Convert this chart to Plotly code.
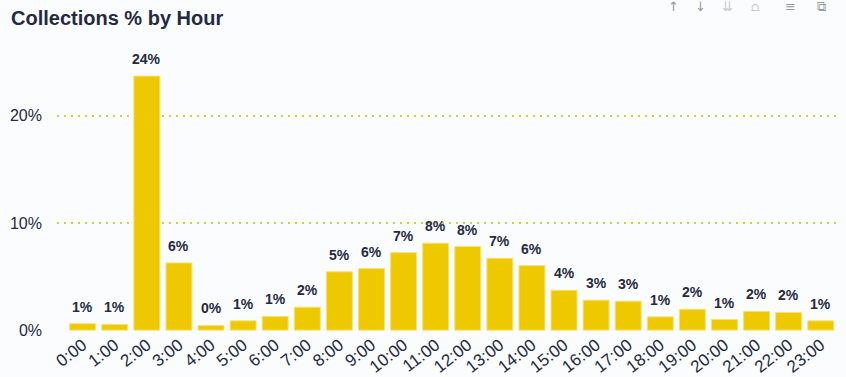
import plotly.graph_objects as go

hours = [f"{h}:00" for h in range(24)]
share = [0.0060, 0.0054, 0.2370, 0.0627, 0.0044, 0.0087, 0.0128, 0.0214,
         0.0545, 0.0574, 0.0723, 0.0811, 0.0780, 0.0670, 0.0602, 0.0372,
         0.0279, 0.0270, 0.0124, 0.0195, 0.0099, 0.0174, 0.0165, 0.0087]
y_ticks = [0, 0.1, 0.2]
y_tick_labels = ["0%", "10%", "20%"]
title_text = "Collections % by Hour"
header_icons = ["↑", "↓", "⇊", "⩍", "≡", "⧉"]

BAR = "#EEC900"
INK = "#252A40"
GRID = "#C9D33A"
FONT = "Liberation Sans, Arial"

W, H = 846, 377
L, R, T, B = 57, 6, 45, 46
PW, PH = W - L - R, H - T - B

fig = go.Figure()
fig.add_trace(go.Bar(
    x=hours, y=share,
    marker=dict(color=BAR, line=dict(color="#F6E27A", width=1)),
    hoverinfo="x+y",
))

for h, v in zip(hours, share):
    fig.add_annotation(x=h, y=v, text=f"<b>{v:.0%}</b>", showarrow=False,
                       yanchor="middle", yshift=17,
                       font=dict(family=FONT, size=14, color=INK))

# title
fig.add_annotation(xref="paper", yref="paper", x=(9 - L) / PW, y=(H - B - 18) / PH,
                   xanchor="left", yanchor="middle", showarrow=False,
                   text=f"<b>{title_text}</b>",
                   font=dict(family=FONT, size=20, color=INK))

# visual header icons (faint)
icon_x = [673, 700, 727, 755, 790, 821]
icon_col = ["#9A9A9A", "#9A9A9A", "#C8C8C8", "#C8C8C8", "#9A9A9A", "#9A9A9A"]
for ic, ix, cc in zip(header_icons, icon_x, icon_col):
    fig.add_annotation(xref="paper", yref="paper", x=(ix - L) / PW, y=(H - B - 7) / PH,
                       xanchor="center", yanchor="middle", showarrow=False,
                       text=ic, font=dict(family="DejaVu Sans", size=13, color=cc))

fig.update_layout(
    width=W, height=H,
    margin=dict(l=L, r=R, t=T, b=B, autoexpand=False),
    paper_bgcolor="#FBFCFE", plot_bgcolor="#FBFCFE",
    bargap=0.19,
    showlegend=False,
    font=dict(family=FONT, color=INK),
)
fig.update_xaxes(range=[-0.8, 23.6], tickangle=-38, showgrid=False, zeroline=False,
                 tickfont=dict(size=17, color=INK), ticks="", showline=False,
                 automargin=False)
fig.update_yaxes(range=[-0.0008, 0.266], tickvals=y_ticks, ticktext=y_tick_labels,
                 showgrid=True, gridcolor=GRID, griddash="2px,5px", gridwidth=1.5,
                 zeroline=False, tickfont=dict(size=16, color=INK), ticks="",
                 ticklabelstandoff=14, automargin=False)

fig.write_html("out.html", config={"displayModeBar": False},
               post_script="document.body.style.margin='0';document.body.style.background='#FBFCFE';")
